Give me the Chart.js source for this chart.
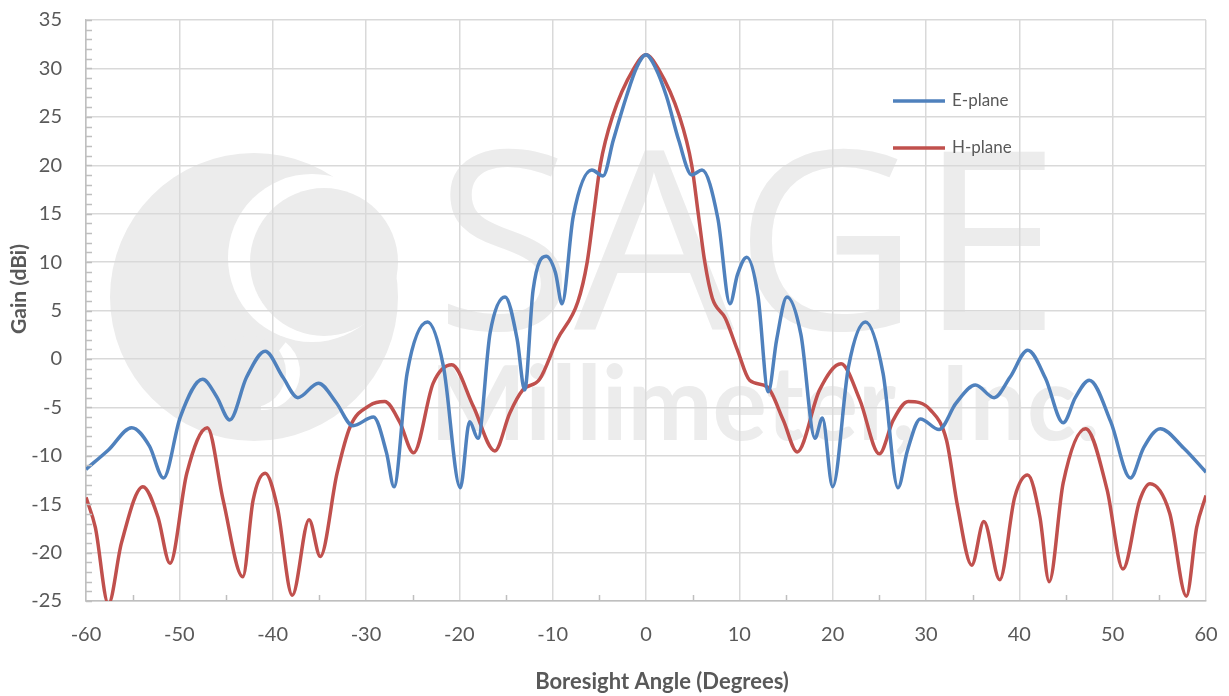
<!DOCTYPE html>
<html>
<head>
<meta charset="utf-8">
<script src="https://cdn.jsdelivr.net/npm/chart.js@4"></script>
<style>
  html, body { margin: 0; padding: 0; background: #fff; }
  #wrap { width: 1229px; height: 696px; }
</style>
</head>
<body>
<div id="wrap"><canvas id="gainChart"></canvas></div>
<script>
// E-plane gain (dBi) vs boresight angle (degrees)
const eAngles = [-60, -57.6, -55.1, -53.2, -51.7, -49.9, -47.5, -46.0, -44.6, -42.8, -40.8, -38.9, -37.3, -35.1, -33.2, -31.4, -29.2, -27.8, -27.0, -25.6, -23.4, -21.7, -19.9, -18.9, -18.0, -16.7, -15.1, -13.8, -13.0, -12.1, -10.7, -9.7, -9.0, -7.8, -5.8, -4.6, -3.5, -2.1, -1.0, 0,
  1.0, 2.2, 3.5, 4.9, 6.0, 7.7, 9.0, 9.8, 10.8, 12.0, 13.1, 14.0, 15.1, 16.6, 18.1, 18.9, 20.0, 21.7, 23.5, 25.4, 27.0, 28.0, 29.4, 31.4, 33.2, 35.3, 37.3, 39.0, 40.9, 42.8, 44.7, 46.0, 47.5, 49.8, 51.9, 53.3, 55.1, 57.6, 60];
const eGain = [-11.4, -9.4, -7.1, -9.0, -12.3, -6.0, -2.1, -3.9, -6.3, -1.9, 0.8, -1.9, -4.0, -2.5, -4.5, -6.9, -6.0, -9.7, -13.2, -1.5, 3.8, -0.8, -13.3, -6.5, -8.2, 2.7, 6.4, 2.0, -3.2, 7.1, 10.6, 8.9, 5.7, 14.7, 19.5, 18.9, 22.6, 27.1, 30.1, 31.4,
  30.1, 27.1, 22.6, 19.0, 19.5, 14.5, 5.7, 8.7, 10.5, 6.5, -3.4, 2.0, 6.4, 2.5, -8.2, -6.1, -13.2, -0.8, 3.8, -1.5, -13.3, -9.5, -6.2, -7.3, -4.6, -2.7, -4.0, -1.9, 0.9, -2.0, -6.6, -4.0, -2.2, -6.5, -12.3, -9.2, -7.2, -9.2, -11.7];

// H-plane gain (dBi) vs boresight angle (degrees)
const hAngles = [-60, -59.0, -57.6, -56.2, -53.9, -52.3, -51.0, -49.2, -47.0, -45.3, -43.2, -42.1, -40.8, -39.5, -37.9, -36.1, -34.9, -33.1, -31.7, -29.6, -28.0, -26.4, -24.9, -22.8, -20.8, -18.5, -16.2, -14.6, -13.2, -11.4, -9.5, -7.3, -6.3, -5.6, -4.9, -3.6, -1.3, 0,
  1.3, 3.6, 4.9, 5.6, 6.3, 7.1, 8.5, 9.8, 11.1, 13.0, 14.7, 16.2, 18.6, 20.9, 22.9, 25.0, 26.5, 28.1, 30.5, 32.2, 33.4, 34.9, 36.2, 37.9, 39.5, 40.9, 42.2, 43.2, 44.7, 47.1, 49.4, 51.1, 52.9, 54.0, 56.1, 57.9, 59.0, 60];
const hGain = [-14.3, -17.4, -25.3, -19.0, -13.2, -16.3, -21.1, -11.8, -7.1, -14.6, -22.5, -14.6, -11.8, -15.3, -24.4, -16.6, -20.4, -11.8, -7.0, -4.8, -4.4, -6.5, -9.7, -2.5, -0.6, -4.9, -9.5, -5.6, -3.2, -2.1, 2.0, 5.9, 10.0, 15.0, 20.0, 25.0, 30.0, 31.4,
  30.0, 25.0, 20.0, 15.0, 10.0, 6.3, 4.2, 0.9, -2.2, -2.9, -6.3, -9.6, -3.2, -0.5, -4.2, -9.8, -6.3, -4.4, -5.3, -8.4, -15.3, -21.3, -16.8, -22.8, -14.3, -12.0, -16.3, -23.0, -12.8, -7.2, -13.5, -21.7, -14.6, -12.9, -15.9, -24.5, -17.4, -14.1];

const seriesNames = ['E-plane', 'H-plane'];
const seriesColors = ['#4f81bd', '#c0504d'];

const xTicks = [-60, -50, -40, -30, -20, -10, 0, 10, 20, 30, 40, 50, 60];
const yTicks = [-25, -20, -15, -10, -5, 0, 5, 10, 15, 20, 25, 30, 35];

const xTitle = 'Boresight Angle (Degrees)';
const yTitle = 'Gain (dBi)';

const FONT = 'Lato, "Open Sans", sans-serif';
const GREY = '#595959';

function toPoints(xs, ys) {
  return xs.map((x, i) => ({ x: x, y: ys[i] }));
}

// faint company watermark behind the grid
const watermark = {
  id: 'watermark',
  beforeDraw(chart) {
    const ctx = chart.ctx;
    ctx.save();
    ctx.fillStyle = '#ececec';
    // round logo
    ctx.beginPath(); ctx.arc(254, 297, 144, 0, Math.PI * 2); ctx.fill();
    ctx.fillStyle = '#ffffff';
    ctx.beginPath(); ctx.arc(312, 258, 84, 0, Math.PI * 2); ctx.fill();
    ctx.fillStyle = '#ececec';
    ctx.beginPath(); ctx.arc(324, 262, 74, 0, Math.PI * 2); ctx.fill();
    ctx.fillStyle = '#ffffff';
    ctx.beginPath(); ctx.arc(262, 372, 38, -0.9, 1.6); ctx.lineTo(262, 372); ctx.fill();
    ctx.fillStyle = '#ececec';
    ctx.beginPath(); ctx.arc(250, 372, 36, 0, Math.PI * 2); ctx.fill();
    // SAGE
    ctx.textBaseline = 'alphabetic';
    ctx.font = '250px "Open Sans", sans-serif';
    let w = ctx.measureText('SAGE').width;
    ctx.save();
    ctx.translate(435, 330);
    ctx.scale(625 / w, 1);
    ctx.fillText('SAGE', 0, 0);
    ctx.restore();
    ctx.font = 'bold 104px ' + FONT;
    w = ctx.measureText('Millimeter, Inc.').width;
    ctx.save();
    ctx.translate(430, 440);
    ctx.scale(670 / w, 1);
    ctx.fillText('Millimeter, Inc.', 0, 0);
    ctx.restore();
    ctx.restore();
  }
};

// minor tick marks inside the axes
const minorTicks = {
  id: 'minorTicks',
  afterDatasetsDraw(chart) {
    const ctx = chart.ctx;
    const xs = chart.scales.x, ys = chart.scales.y;
    const area = chart.chartArea;
    ctx.save();
    ctx.strokeStyle = '#bfbfbf';
    ctx.lineWidth = 1.5;
    ctx.beginPath();
    for (let v = ys.min; v <= ys.max; v += 1) {
      const py = Math.round(ys.getPixelForValue(v)) + 0.5;
      ctx.moveTo(area.left, py); ctx.lineTo(area.left + 6, py);
    }
    for (let v = xs.min + 5; v < xs.max; v += 10) {
      const px = Math.round(xs.getPixelForValue(v)) + 0.5;
      ctx.moveTo(px, area.bottom); ctx.lineTo(px, area.bottom - 6);
    }
    ctx.stroke();
    ctx.restore();
  }
};

// legend inside the plot, plus axis titles
const labels = {
  id: 'labels',
  afterDraw(chart) {
    const ctx = chart.ctx;
    ctx.save();
    ctx.font = '17px ' + FONT;
    ctx.textBaseline = 'middle';
    chart.data.datasets.forEach((ds, i) => {
      const y = 101 + i * 47;
      ctx.strokeStyle = ds.borderColor;
      ctx.lineWidth = 3.5;
      ctx.beginPath(); ctx.moveTo(893, y); ctx.lineTo(945, y); ctx.stroke();
      ctx.fillStyle = GREY;
      ctx.fillText(ds.label, 952, y);
    });
    ctx.font = 'bold 22px ' + FONT;
    ctx.textAlign = 'center';
    ctx.fillText(xTitle, 662, 682);
    ctx.translate(19, 289);
    ctx.rotate(-Math.PI / 2);
    ctx.font = 'bold 21px ' + FONT;
    ctx.fillText(yTitle, 0, 0);
    ctx.restore();
  }
};

const ctxGain = document.getElementById('gainChart').getContext('2d');
const gainChart = new Chart(ctxGain, {
  type: 'line',
  data: {
    datasets: [
      { label: seriesNames[0], data: toPoints(eAngles, eGain), borderColor: seriesColors[0] },
      { label: seriesNames[1], data: toPoints(hAngles, hGain), borderColor: seriesColors[1] }
    ].map(ds => Object.assign(ds, {
      borderWidth: 3.5, pointRadius: 0, fill: false,
      cubicInterpolationMode: 'monotone', tension: 0.4
    }))
  },
  options: {
    responsive: true,
    maintainAspectRatio: false,
    animation: false,
    layout: { padding: { left: 0, top: 20, right: 23, bottom: 0 } },
    plugins: { legend: { display: false }, tooltip: { enabled: false } },
    scales: {
      x: {
        type: 'linear', min: -60, max: 60,
        afterFit: s => { s.height = 95; s.paddingLeft = 0; s.paddingRight = 0; },
        afterBuildTicks: s => { s.ticks = xTicks.map(v => ({ value: v })); },
        grid: { color: '#d9d9d9', lineWidth: 1.5, drawTicks: false },
        border: { color: '#bfbfbf', width: 1.5 },
        ticks: { color: GREY, font: { family: FONT, size: 20 }, padding: 22, maxRotation: 0 }
      },
      y: {
        min: -25, max: 35,
        afterFit: s => { s.width = 86; s.paddingTop = 0; s.paddingBottom = 0; },
        afterBuildTicks: s => { s.ticks = yTicks.map(v => ({ value: v })); },
        grid: { color: '#d9d9d9', lineWidth: 1.5, drawTicks: false },
        border: { color: '#bfbfbf', width: 1.5 },
        ticks: { color: GREY, font: { family: FONT, size: 20 }, padding: 24 }
      }
    }
  },
  plugins: [watermark, minorTicks, labels]
});
</script>
</body>
</html>
